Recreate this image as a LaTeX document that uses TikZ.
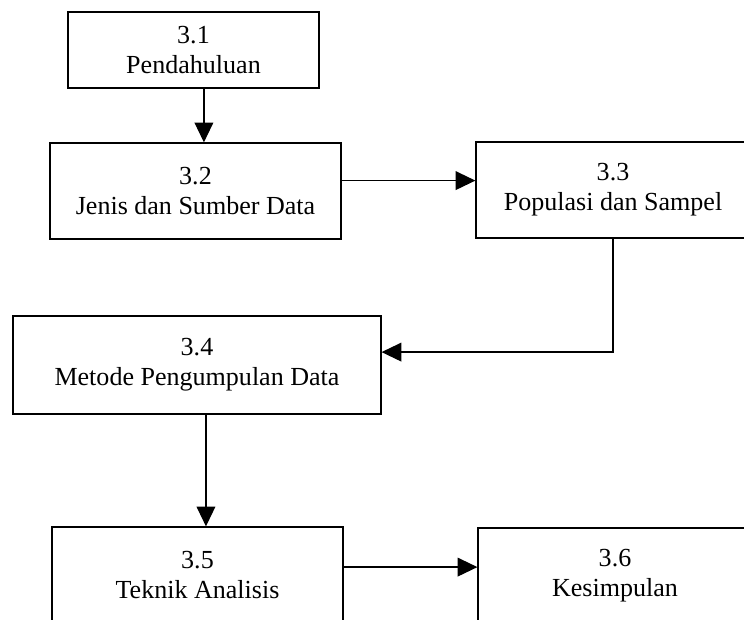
\documentclass[tikz,border=0pt]{standalone}
\usepackage{fontspec}
\setmainfont{Liberation Serif}
\usetikzlibrary{arrows.meta}
\tikzset{
  box/.style={draw, line width=0.6pt, align=center, inner sep=0pt,
    minimum height=46.1pt, font=\fontsize{12.5}{14.4}\selectfont},
  arr/.style={-{Triangle[length=9.5pt,width=9pt]}, line width=0.6pt},
}
\begin{document}
\begin{tikzpicture}[x=0.48pt,y=-0.48pt]
\useasboundingbox (0,0) rectangle (744,619);
\clip (0,0) rectangle (744,619);
\node[box, minimum width=120.5pt, minimum height=36.5pt] (b31) at (193.5,50) {3.1\\Pendahuluan};
\node[box, minimum width=139.7pt] (b32) at (195.5,191) {3.2\\Jenis dan Sumber Data};
\node[box, minimum width=131.5pt] (b33) at (613,190) {3.3\\Populasi dan Sampel};
\node[box, minimum width=176.6pt, minimum height=47pt] (b34) at (197,365) {3.4\\Metode Pengumpulan Data};
\node[box, minimum width=139.7pt] (b35) at (197.5,575) {3.5\\Teknik Analisis};
\node[box, minimum width=131.5pt] (b36) at (615,576) {3.6\\Kesimpulan};

\draw[arr] ([xshift=5pt]b31.south) -- ([xshift=5pt]b31.south |- b32.north);
\draw[arr] ([yshift=5pt]b32.east) -- ([yshift=5pt]b32.east -| b33.west);
\draw[arr] (b33.south) |- ([yshift=6.2pt]b34.east);
\draw[arr] ([xshift=4.3pt]b34.south) -- ([xshift=4.3pt]b34.south |- b35.north);
\draw[arr] ([yshift=3.8pt]b35.east) -- ([yshift=3.8pt]b35.east -| b36.west);
\end{tikzpicture}
\end{document}
